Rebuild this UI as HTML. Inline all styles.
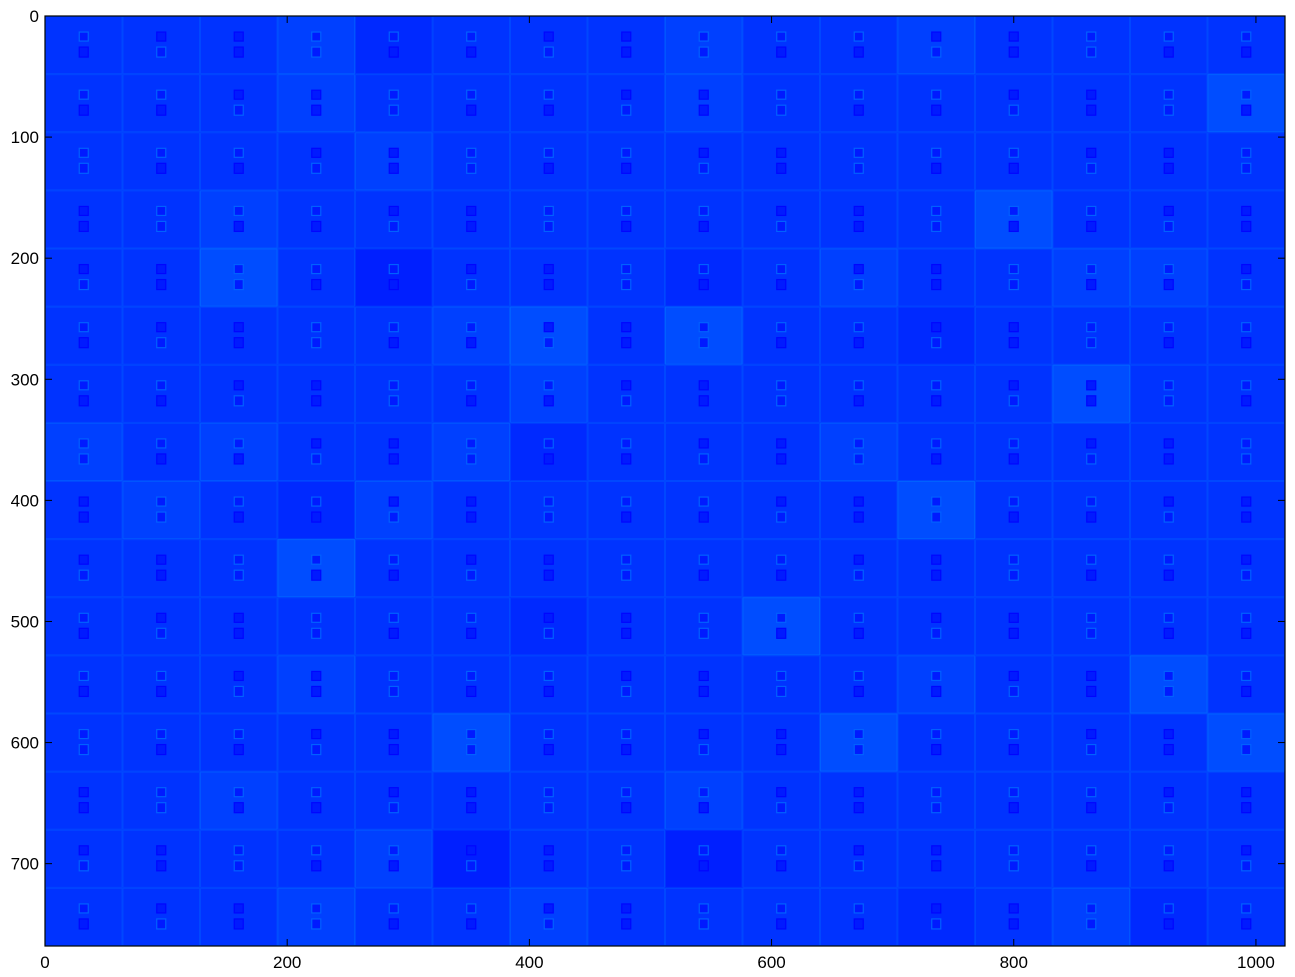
<!DOCTYPE html>
<html><head><meta charset="utf-8"><style>
html,body{margin:0;padding:0;background:#fff;width:1295px;height:977px;overflow:hidden}
svg text{font-family:"Liberation Sans","DejaVu Sans",sans-serif;font-size:17px;fill:#000}
</style></head><body>
<svg id="chart" width="1295" height="977" xmlns="http://www.w3.org/2000/svg">
<g id="cells"></g>
<g id="axes"></g>
</svg>
<script>
// Image data: 16x16 tiles, each a feature map 64 wide x 48 tall
const tileRows = [
"...ld...l..l....",
"...l....l......L",
"....l...........",
"..l.........L...",
"..L.D...d.l..ll.",
".....lL.L..d....",
"......l......L..",
"l.l..ld...l.....",
".l.dl......L....",
"...L............",
"......d..L......",
"...l.......l..L.",
".....L....L....L",
"..l.....l.......",
"....lD..D.......",
"...l..l....d.ld."
];
const levelMap = {'.':0.175,'l':0.188,'L':0.2,'d':0.165,'D':0.155};
const xTicks = [0,200,400,600,800,1000];
const yTicks = [0,100,200,300,400,500,600,700];
const imgW = 1024, imgH = 768;

const L=45, R=1285, T=16, B=946;
const sx = v => L + v*(R-L)/imgW;
const sy = v => T + v*(B-T)/imgH;
function jet(v){
  const r=Math.min(1,Math.max(0,1.5-Math.abs(4*v-3)));
  const g=Math.min(1,Math.max(0,1.5-Math.abs(4*v-2)));
  const b=Math.min(1,Math.max(0,1.5-Math.abs(4*v-1)));
  return `rgb(${Math.round(r*255)},${Math.round(g*255)},${Math.round(b*255)})`;
}
const NS="http://www.w3.org/2000/svg";
const cells=document.getElementById('cells');
const axes=document.getElementById('axes');
function mk(tag,attrs,parent){const e=document.createElementNS(NS,tag);for(const k in attrs)e.setAttribute(k,attrs[k]);parent.appendChild(e);return e;}

tileRows.forEach((row,i)=>{
  [...row].forEach((ch,j)=>{
    const v=levelMap[ch];
    const x0=sx(j*64), y0=sy(i*48), w=sx((j+1)*64)-x0, h=sy((i+1)*48)-y0;
    const r=mk('rect',{x:x0,y:y0,width:w+0.5,height:h+0.5,fill:jet(v)},cells);
    
    
    mk('rect',{x:x0+0.5,y:y0+0.5,width:w-1,height:h-1,fill:'none',stroke:jet(v+0.02),'stroke-width':1},cells);
    const cx=x0+w/2, cy=y0+h/2;
    const dark=jet(0.13), lite=jet(0.22);
    const seed=(i*7+j*13)%5;
    mk('rect',{x:cx-4.5,y:cy-13,width:9,height:9,fill:jet(0.15),stroke:seed%2?dark:lite,'stroke-width':1.2},cells);
    mk('rect',{x:cx-4.5,y:cy+2,width:9,height:10,fill:jet(0.15),stroke:seed>2?lite:dark,'stroke-width':1.2},cells);
  });
});

const frame=mk('rect',{x:L,y:T,width:R-L,height:B-T,fill:'none',stroke:'#000','stroke-width':1.2},axes);


xTicks.forEach(t=>{
  const x=sx(t);
  mk('line',{x1:x,y1:B,x2:x,y2:B-7,stroke:'#000'},axes);
  mk('line',{x1:x,y1:T,x2:x,y2:T+7,stroke:'#000'},axes);
  const tx=mk('text',{x:x,y:B+22,'text-anchor':'middle'},axes);
  tx.textContent=t;
  
  
});
yTicks.forEach(t=>{
  const y=sy(t);
  mk('line',{x1:L,y1:y,x2:L+7,y2:y,stroke:'#000'},axes);
  mk('line',{x1:R,y1:y,x2:R-7,y2:y,stroke:'#000'},axes);
  const ty=mk('text',{x:L-6,y:y+6,'text-anchor':'end'},axes);
  ty.textContent=t;
  
  
});
</script>
</body></html>
